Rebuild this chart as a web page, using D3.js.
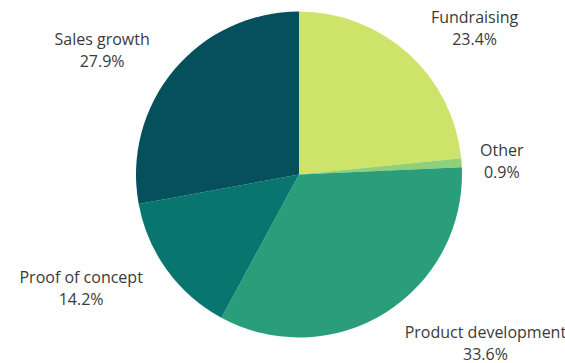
<!DOCTYPE html>
<html>
<head>
<meta charset="utf-8">
<script src="https://cdn.jsdelivr.net/npm/d3@7"></script>
<style>
  body { margin: 0; background: #fff; }
  text { font-family: "Open Sans", sans-serif; }
</style>
</head>
<body>
<div id="chart"></div>
<script>
// Chart data
var categories = ["Fundraising", "Other", "Product development", "Proof of concept", "Sales growth"];
var shares = [23.4, 0.9, 33.6, 14.2, 27.9];
var colors = ["#cde36a", "#8fd07a", "#2a9e7b", "#08756f", "#064f5c"];

var width = 565;
var height = 363;
var cx = 299;
var cy = 174.5;
var radius = 163;
var labelGap = 18;

var data = categories.map(function(c, i) {
  return { name: c, value: shares[i], color: colors[i] };
});

var svg = d3.select("#chart")
  .append("svg")
  .attr("width", width)
  .attr("height", height);

var g = svg.append("g")
  .attr("transform", "translate(" + cx + "," + cy + ")");

var pie = d3.pie()
  .sort(null)
  .value(function(d) { return d.value; });

var arc = d3.arc()
  .innerRadius(0)
  .outerRadius(radius);

var arcs = pie(data);

// Slices
g.selectAll(".slice")
  .data(arcs)
  .enter()
  .append("path")
  .attr("class", "slice")
  .attr("fill", function(d) { return d.data.color; })
  .attr("d", arc);

// Labels: two lines, placed just outside the pie along the mid angle
var labels = g.selectAll(".label")
  .data(arcs)
  .enter()
  .append("text")
  .attr("class", "label")
  .attr("font-size", 16)
  .attr("fill", "#3a3a3a");

labels.append("tspan")
  .attr("class", "l1")
  .text(function(d) { return d.data.name; });

labels.append("tspan")
  .attr("class", "l2")
  .text(function(d) { return d.data.value.toFixed(1) + "%"; });

var lineH = 22;

labels.each(function(d) {
  var t = d3.select(this);
  var w1 = t.select(".l1").node().getComputedTextLength();
  var w2 = t.select(".l2").node().getComputedTextLength();
  var w = Math.max(w1, w2);
  var h = lineH * 2;
  var a = (d.startAngle + d.endAngle) / 2;
  var sx = Math.sin(a), sy = -Math.cos(a);
  var right = sx >= 0;

  // distance from the centre to the nearest point of the label box
  function nearest(dist) {
    var px = sx * dist, py = sy * dist;
    var x0 = right ? px : px - w, x1 = right ? px + w : px;
    var y0 = py - h / 2, y1 = py + h / 2;
    var nx = Math.max(x0, Math.min(0, x1));
    var ny = Math.max(y0, Math.min(0, y1));
    return Math.sqrt(nx * nx + ny * ny);
  }
  var lo = 0, hi = 400;
  for (var k = 0; k < 40; k++) {
    var mid = (lo + hi) / 2;
    if (nearest(mid) < radius + labelGap) lo = mid; else hi = mid;
  }
  var px = sx * hi, py = sy * hi;
  var centerX = right ? px + w / 2 : px - w / 2;

  t.attr("text-anchor", "middle");
  t.select(".l1")
    .attr("x", centerX)
    .attr("y", py - lineH / 2)
    .attr("dy", "0.35em");
  t.select(".l2")
    .attr("x", centerX)
    .attr("y", py + lineH / 2)
    .attr("dy", "0.35em");
});
</script>
</body>
</html>
